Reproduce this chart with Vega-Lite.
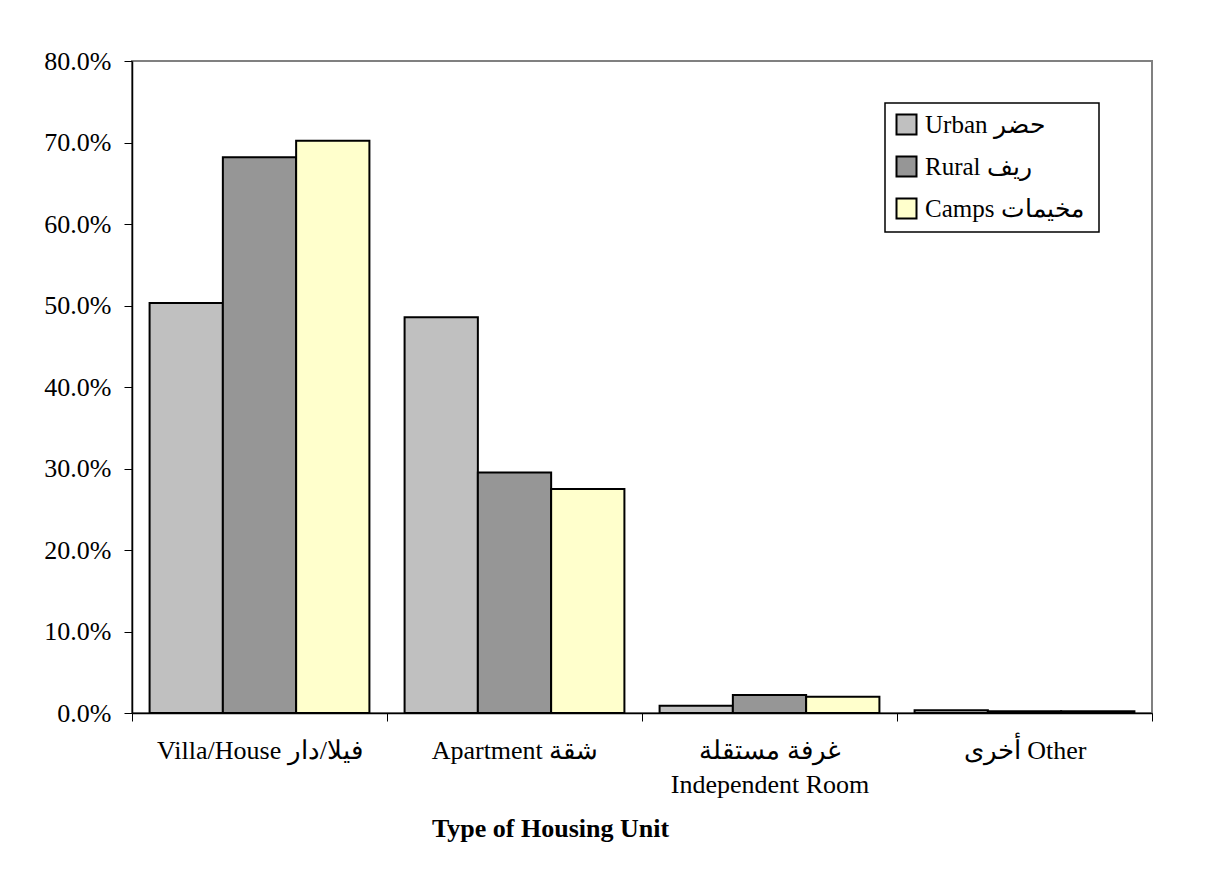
{
  "$schema": "https://vega.github.io/schema/vega-lite/v6.json",
  "width": 1020,
  "height": 652,
  "autosize": {"type": "none"},
  "padding": {"left": 132, "top": 61, "right": 75, "bottom": 181},
  "background": "white",
  "data": {
    "values": [
      {"type": "Villa/House فيلا/دار", "area": "Urban  حضر", "value": 0.503},
      {"type": "Villa/House فيلا/دار", "area": "Rural  ريف", "value": 0.682},
      {"type": "Villa/House فيلا/دار", "area": "Camps  مخيمات", "value": 0.702},
      {"type": "Apartment  شقة", "area": "Urban  حضر", "value": 0.4855},
      {"type": "Apartment  شقة", "area": "Rural  ريف", "value": 0.295},
      {"type": "Apartment  شقة", "area": "Camps  مخيمات", "value": 0.275},
      {"type": "غرفة مستقلة|Independent Room", "area": "Urban  حضر", "value": 0.009},
      {"type": "غرفة مستقلة|Independent Room", "area": "Rural  ريف", "value": 0.022},
      {"type": "غرفة مستقلة|Independent Room", "area": "Camps  مخيمات", "value": 0.020},
      {"type": "أخرى  Other", "area": "Urban  حضر", "value": 0.0035},
      {"type": "أخرى  Other", "area": "Rural  ريف", "value": 0.002},
      {"type": "أخرى  Other", "area": "Camps  مخيمات", "value": 0.002}
    ]
  },
  "mark": {"type": "bar", "stroke": "black", "strokeWidth": 2},
  "encoding": {
    "x": {
      "field": "type",
      "type": "nominal",
      "sort": null,
      "scale": {"paddingInner": 0, "paddingOuter": 0},
      "axis": {
        "title": "Type of Housing Unit",
        "titleFont": "Liberation Serif",
        "titleFontSize": 26,
        "titleFontWeight": "bold",
        "titleColor": "black",
        "titleX": 418,
        "titleY": 115,
        "titleAlign": "center",
        "titleBaseline": "middle",
        "labelExpr": "split(datum.label, '|')",
        "labelAngle": 0,
        "labelFont": "Liberation Serif",
        "labelFontSize": 26,
        "labelColor": "black",
        "labelLineHeight": 34,
        "labelPadding": 16,
        "labelLimit": 400,
        "tickBand": "extent",
        "tickSize": 8,
        "tickColor": "black",
        "domainColor": "black"
      }
    },
    "xOffset": {
      "field": "area",
      "type": "nominal",
      "sort": ["Urban  حضر", "Rural  ريف", "Camps  مخيمات"],
      "scale": {"paddingInner": 0, "paddingOuter": 0.24}
    },
    "y": {
      "field": "value",
      "type": "quantitative",
      "scale": {"domain": [0, 0.8]},
      "axis": {
        "title": null,
        "values": [0, 0.1, 0.2, 0.3, 0.4, 0.5, 0.6, 0.7, 0.8],
        "format": ".1%",
        "grid": false,
        "labelFont": "Liberation Serif",
        "labelFontSize": 26,
        "labelColor": "black",
        "labelPadding": 13,
        "tickSize": 8,
        "tickColor": "black",
        "domainColor": "black"
      }
    },
    "color": {
      "field": "area",
      "type": "nominal",
      "sort": ["Urban  حضر", "Rural  ريف", "Camps  مخيمات"],
      "scale": {
        "domain": ["Urban  حضر", "Rural  ريف", "Camps  مخيمات"],
        "range": ["#C0C0C0", "#969696", "#FFFFCC"]
      },
      "legend": {
        "title": null,
        "orient": "none",
        "legendX": 753,
        "legendY": 42,
        "symbolType": "square",
        "symbolSize": 400,
        "symbolStrokeColor": "black",
        "symbolStrokeWidth": 2,
        "labelFont": "Liberation Serif",
        "labelFontSize": 25,
        "labelColor": "black",
        "labelLimit": 300,
        "labelOffset": 6,
        "rowPadding": 13,
        "padding": 9,
        "strokeColor": "black",
        "fillColor": "white"
      }
    }
  },
  "config": {
    "view": {"stroke": "#808080", "strokeWidth": 2},
    "axis": {"domainWidth": 1.5},
    "legend": {"strokeWidth": 1.5},
    "font": "Liberation Serif"
  }
}
